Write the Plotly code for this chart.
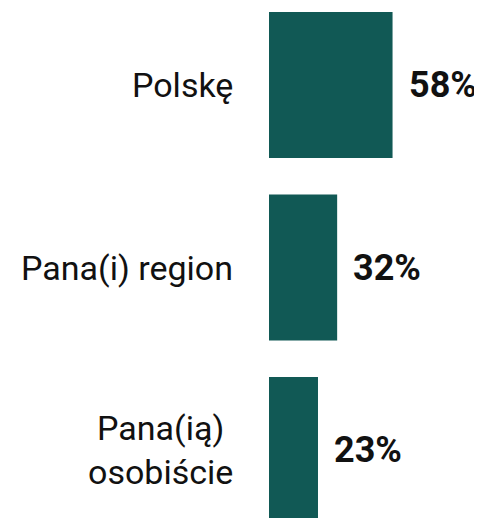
import plotly.graph_objects as go

categories = ["Polskę", "Pana(i) region", "Pana(ią)<br>osobiście"]
values = [58, 32, 23]
value_labels = ["58%", "32%", "23%"]

bar_color = "#115955"

fig = go.Figure(go.Bar(
    x=values, y=categories, orientation="h",
    marker=dict(color=bar_color, line=dict(width=0)),
    width=0.8, hoverinfo="skip",
))

for v, c, t in zip(values, categories, value_labels):
    fig.add_annotation(x=v, y=c, text="<b>" + t + "</b>", showarrow=False,
                       xanchor="left", xshift=14, yshift=0,
                       font=dict(family="Roboto", size=36, color="#111111"))
    fig.add_annotation(x=0, y=c, text=c, showarrow=False, align="center",
                       xanchor="right", xshift=-34, yshift=0,
                       font=dict(family="Roboto", size=34, color="#111111"))

fig.update_layout(
    width=482, height=518,
    margin=dict(l=261, r=0, t=0, b=0),
    plot_bgcolor="white", paper_bgcolor="white",
    showlegend=False,
    bargap=0.2,
)
fig.update_xaxes(range=[0, 103.75], visible=False)
fig.update_yaxes(range=[2.416, -0.422], showgrid=False, zeroline=False,
                 showline=False, ticks="", showticklabels=False)

fig.write_html("out.html")
